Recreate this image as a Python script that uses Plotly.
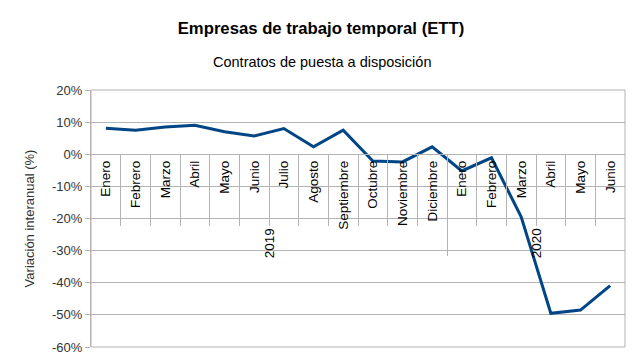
import plotly.graph_objects as go

meses = ["Enero", "Febrero", "Marzo", "Abril", "Mayo", "Junio", "Julio", "Agosto",
         "Septiembre", "Octubre", "Noviembre", "Diciembre",
         "Enero", "Febrero", "Marzo", "Abril", "Mayo", "Junio"]
anios = ["2019"] * 12 + ["2020"] * 6
variacion = [8.1, 7.5, 8.5, 9.0, 7.0, 5.7, 8.0, 2.3, 7.5, -2.1, -2.4, 2.3,
             -5.2, -1.1, -19.5, -49.5, -48.5, -40.9]
y_ticks = [-60, -50, -40, -30, -20, -10, 0, 10, 20]

n = len(meses)
idx = list(range(n))
xr = [-0.5, n - 0.5]
ymin, ymax = -60, 20
zero_pos = (0 - ymin) / (ymax - ymin)

# group boundaries
groups = []
for i, a in enumerate(anios):
    if not groups or groups[-1][0] != a:
        groups.append([a, i, i])
    else:
        groups[-1][2] = i
month_seps = [i - 0.5 for i in range(1, n)]
year_seps = [g[1] - 0.5 for g in groups[1:]]

GRAY = "#b3b3b3"
FONT = "Liberation Sans, Arial, sans-serif"
W, H = 635, 353  # page body has an 8px margin

fig = go.Figure()
fig.add_trace(go.Scatter(x=idx, y=variacion, mode="lines",
                         line=dict(color="#004586", width=3), showlegend=False,
                         cliponaxis=False))

fig.update_layout(
    width=W, height=H,
    margin=dict(l=83, r=18, t=82, b=14, autoexpand=False),
    paper_bgcolor="white", plot_bgcolor="white",
    font=dict(family=FONT, size=13, color="#000000"),
    title=dict(text="<b>Empresas de trabajo temporal (ETT)</b>",
               x=(321 - 8) / W, xanchor="center", xref="container",
               y=1 - 20 / H, yanchor="middle", yref="container",
               automargin=False,
               font=dict(family=FONT, size=16.7, color="#000000")),
    yaxis=dict(range=[ymin, ymax], tickvals=y_ticks,
               ticktext=[f"{v}%" for v in y_ticks], automargin=False,
               showgrid=True, gridcolor=GRAY, gridwidth=1,
               zeroline=False, showline=True, linecolor=GRAY,
               ticks="outside", ticklen=5, tickcolor=GRAY,
               tickfont=dict(size=13, color="#333333"),
               title=dict(text="Variación interanual (%)",
                          font=dict(size=13, color="#333333"), standoff=14)),
    xaxis=dict(range=xr, tickvals=idx, ticktext=meses, tickangle=-90,
               anchor="free", position=zero_pos, showgrid=False, automargin=False,
               zeroline=False, showline=True, linecolor=GRAY, ticks="",
               tickfont=dict(size=13.5, color="#000000")),
    xaxis2=dict(range=xr, overlaying="x", anchor="free", position=zero_pos,
                tickvals=month_seps, ticks="outside", ticklen=71, automargin=False,
                tickcolor=GRAY, showticklabels=False, showgrid=False,
                zeroline=False, showline=False),
    xaxis3=dict(range=xr, overlaying="x", anchor="free", position=zero_pos,
                tickvals=year_seps, ticks="outside", ticklen=101, automargin=False,
                tickcolor=GRAY, showticklabels=False, showgrid=False,
                zeroline=False, showline=False),
)

# invisible traces to activate overlay axes
fig.add_trace(go.Scatter(x=[xr[0]], y=[0], xaxis="x2", mode="markers",
                         marker=dict(opacity=0), showlegend=False, hoverinfo="skip"))
fig.add_trace(go.Scatter(x=[xr[0]], y=[0], xaxis="x3", mode="markers",
                         marker=dict(opacity=0), showlegend=False, hoverinfo="skip"))

# plot frame
fig.add_shape(type="rect", xref="paper", yref="paper", x0=0, x1=1, y0=0, y1=1,
              line=dict(color=GRAY, width=1), layer="below")

# subtitle
fig.add_annotation(text="Contratos de puesta a disposición", xref="paper", yref="paper",
                   x=(321.5 - 91) / 534, y=1, yshift=28, showarrow=False,
                   xanchor="center", yanchor="middle",
                   font=dict(size=14.5, color="#000000"))

# year labels
for a, i0, i1 in groups:
    fig.add_annotation(text=a, x=(i0 + i1) / 2, y=0, xref="x", yref="y",
                       yshift=-89, textangle=-90, showarrow=False,
                       xanchor="center", yanchor="middle",
                       font=dict(size=13.5, color="#000000"))

fig.write_html("out.html")
